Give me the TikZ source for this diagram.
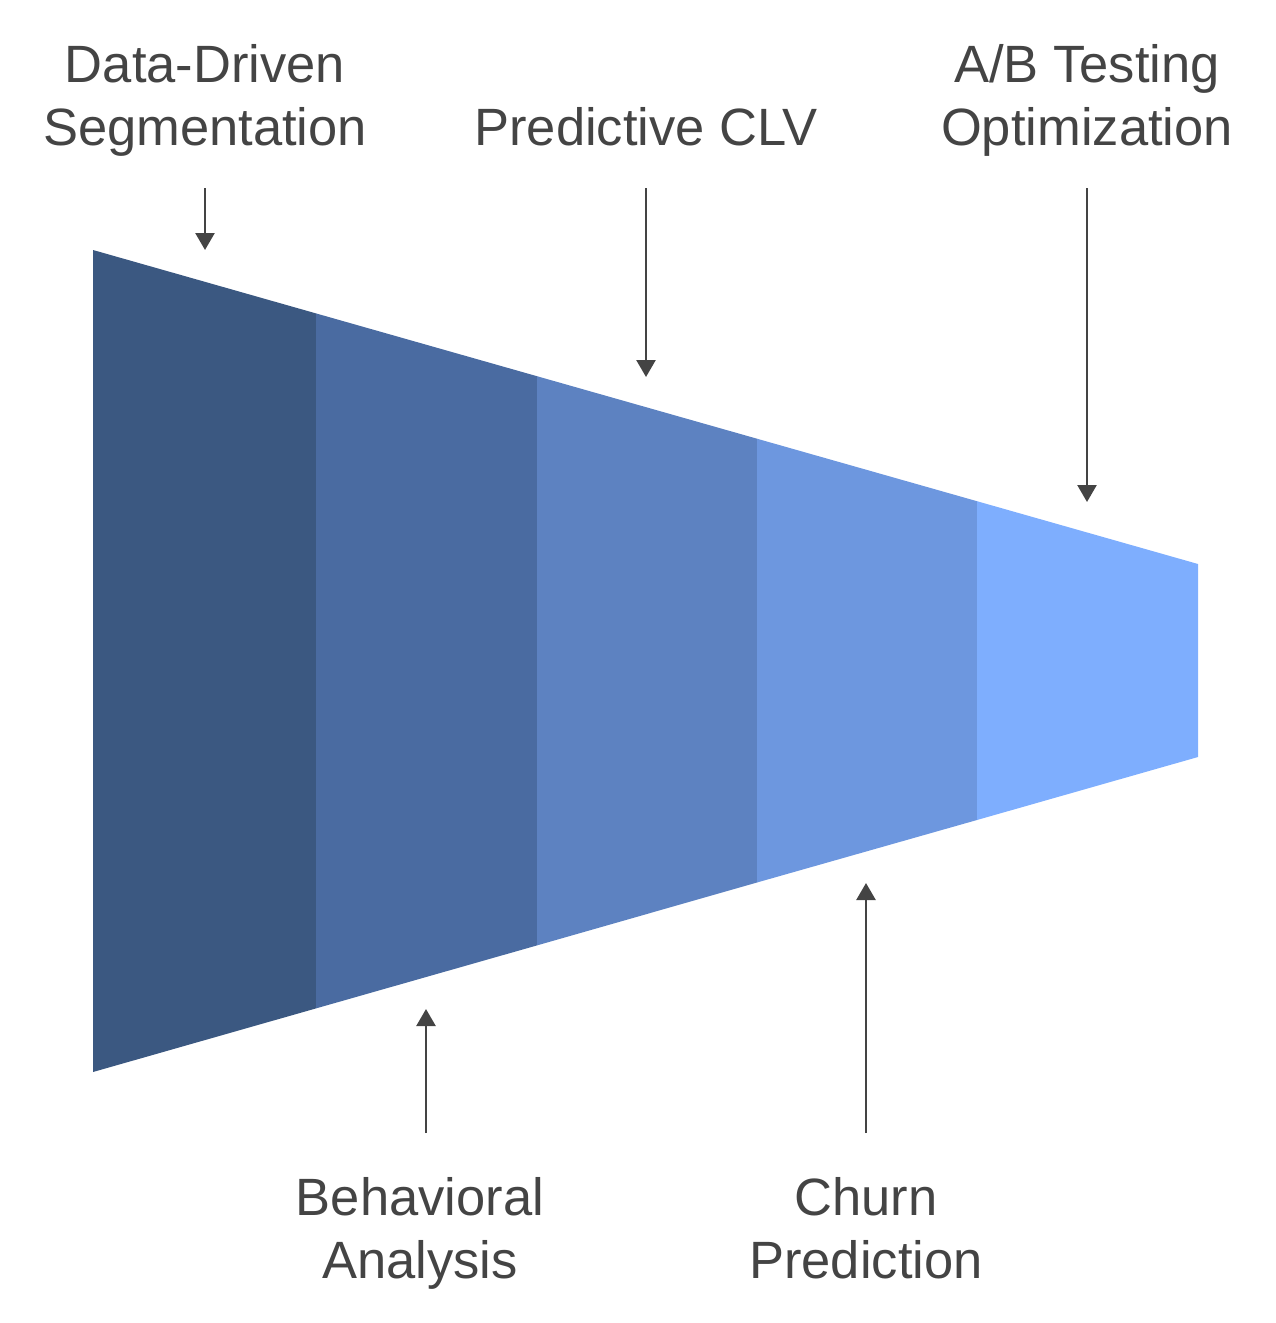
\documentclass[tikz,border=0pt]{standalone}
\usepackage{fontspec}
\setmainfont{Liberation Sans}
\usetikzlibrary{arrows.meta}
\definecolor{segA}{HTML}{3B5881}
\definecolor{segB}{HTML}{4A6BA1}
\definecolor{segC}{HTML}{5D82C1}
\definecolor{segD}{HTML}{6D97DF}
\definecolor{segE}{HTML}{7EAEFE}
\definecolor{txt}{HTML}{444444}
\tikzset{
  lbl/.style={text=txt, font=\fontsize{52.5}{63}\selectfont, align=center, inner sep=0pt, anchor=base},
  pointer/.style={draw=txt, line width=2.5pt, -{Triangle[length=17pt,width=19pt]}},
}
\begin{document}
\begin{tikzpicture}[x=1pt,y=-1pt]
\useasboundingbox (0,0) rectangle (1276,1323);
% funnel outline points
\coordinate (t0) at (93,250);   \coordinate (b0) at (93,1072);
\coordinate (t1) at (316,313.4); \coordinate (b1) at (316,1008.4);
\coordinate (t2) at (537,376.2); \coordinate (b2) at (537,945.4);
\coordinate (t3) at (757,438.7); \coordinate (b3) at (757,882.5);
\coordinate (t4) at (977,501.2); \coordinate (b4) at (977,820);
\coordinate (t5) at (1198,564); \coordinate (b5) at (1198,757);
\fill[segA] (t0) -- (t1) -- (b1) -- (b0) -- cycle;
\fill[segB] (t1) -- (t2) -- (b2) -- (b1) -- cycle;
\fill[segC] (t2) -- (t3) -- (b3) -- (b2) -- cycle;
\fill[segD] (t3) -- (t4) -- (b4) -- (b3) -- cycle;
\fill[segE] (t4) -- (t5) -- (b5) -- (b4) -- cycle;
% labels (base anchor = baseline of last line)
\node[lbl] (seg) at (205,145) {Data-Driven\\Segmentation};
\node[lbl] (clv) at (646,145) {Predictive CLV};
\node[lbl] (ab) at (1087,145) {A/B Testing\\Optimization};
\node[lbl] (beh) at (420,1278) {Behavioral\\Analysis};
\node[lbl] (churn) at (866,1278) {Churn\\Prediction};
% arrow endpoints
\coordinate (segS) at (205,188); \coordinate (segE) at (205,250);
\coordinate (clvS) at (646,188); \coordinate (clvE) at (646,377);
\coordinate (abS) at (1087,188); \coordinate (abE) at (1087,502);
\coordinate (behS) at (426,1133); \coordinate (behE) at (426,1009);
\coordinate (churnS) at (866,1133); \coordinate (churnE) at (866,883);
\draw[pointer] (segS) -- (segE);
\draw[pointer] (clvS) -- (clvE);
\draw[pointer] (abS) -- (abE);
\draw[pointer] (behS) -- (behE);
\draw[pointer] (churnS) -- (churnE);
\end{tikzpicture}
\end{document}
